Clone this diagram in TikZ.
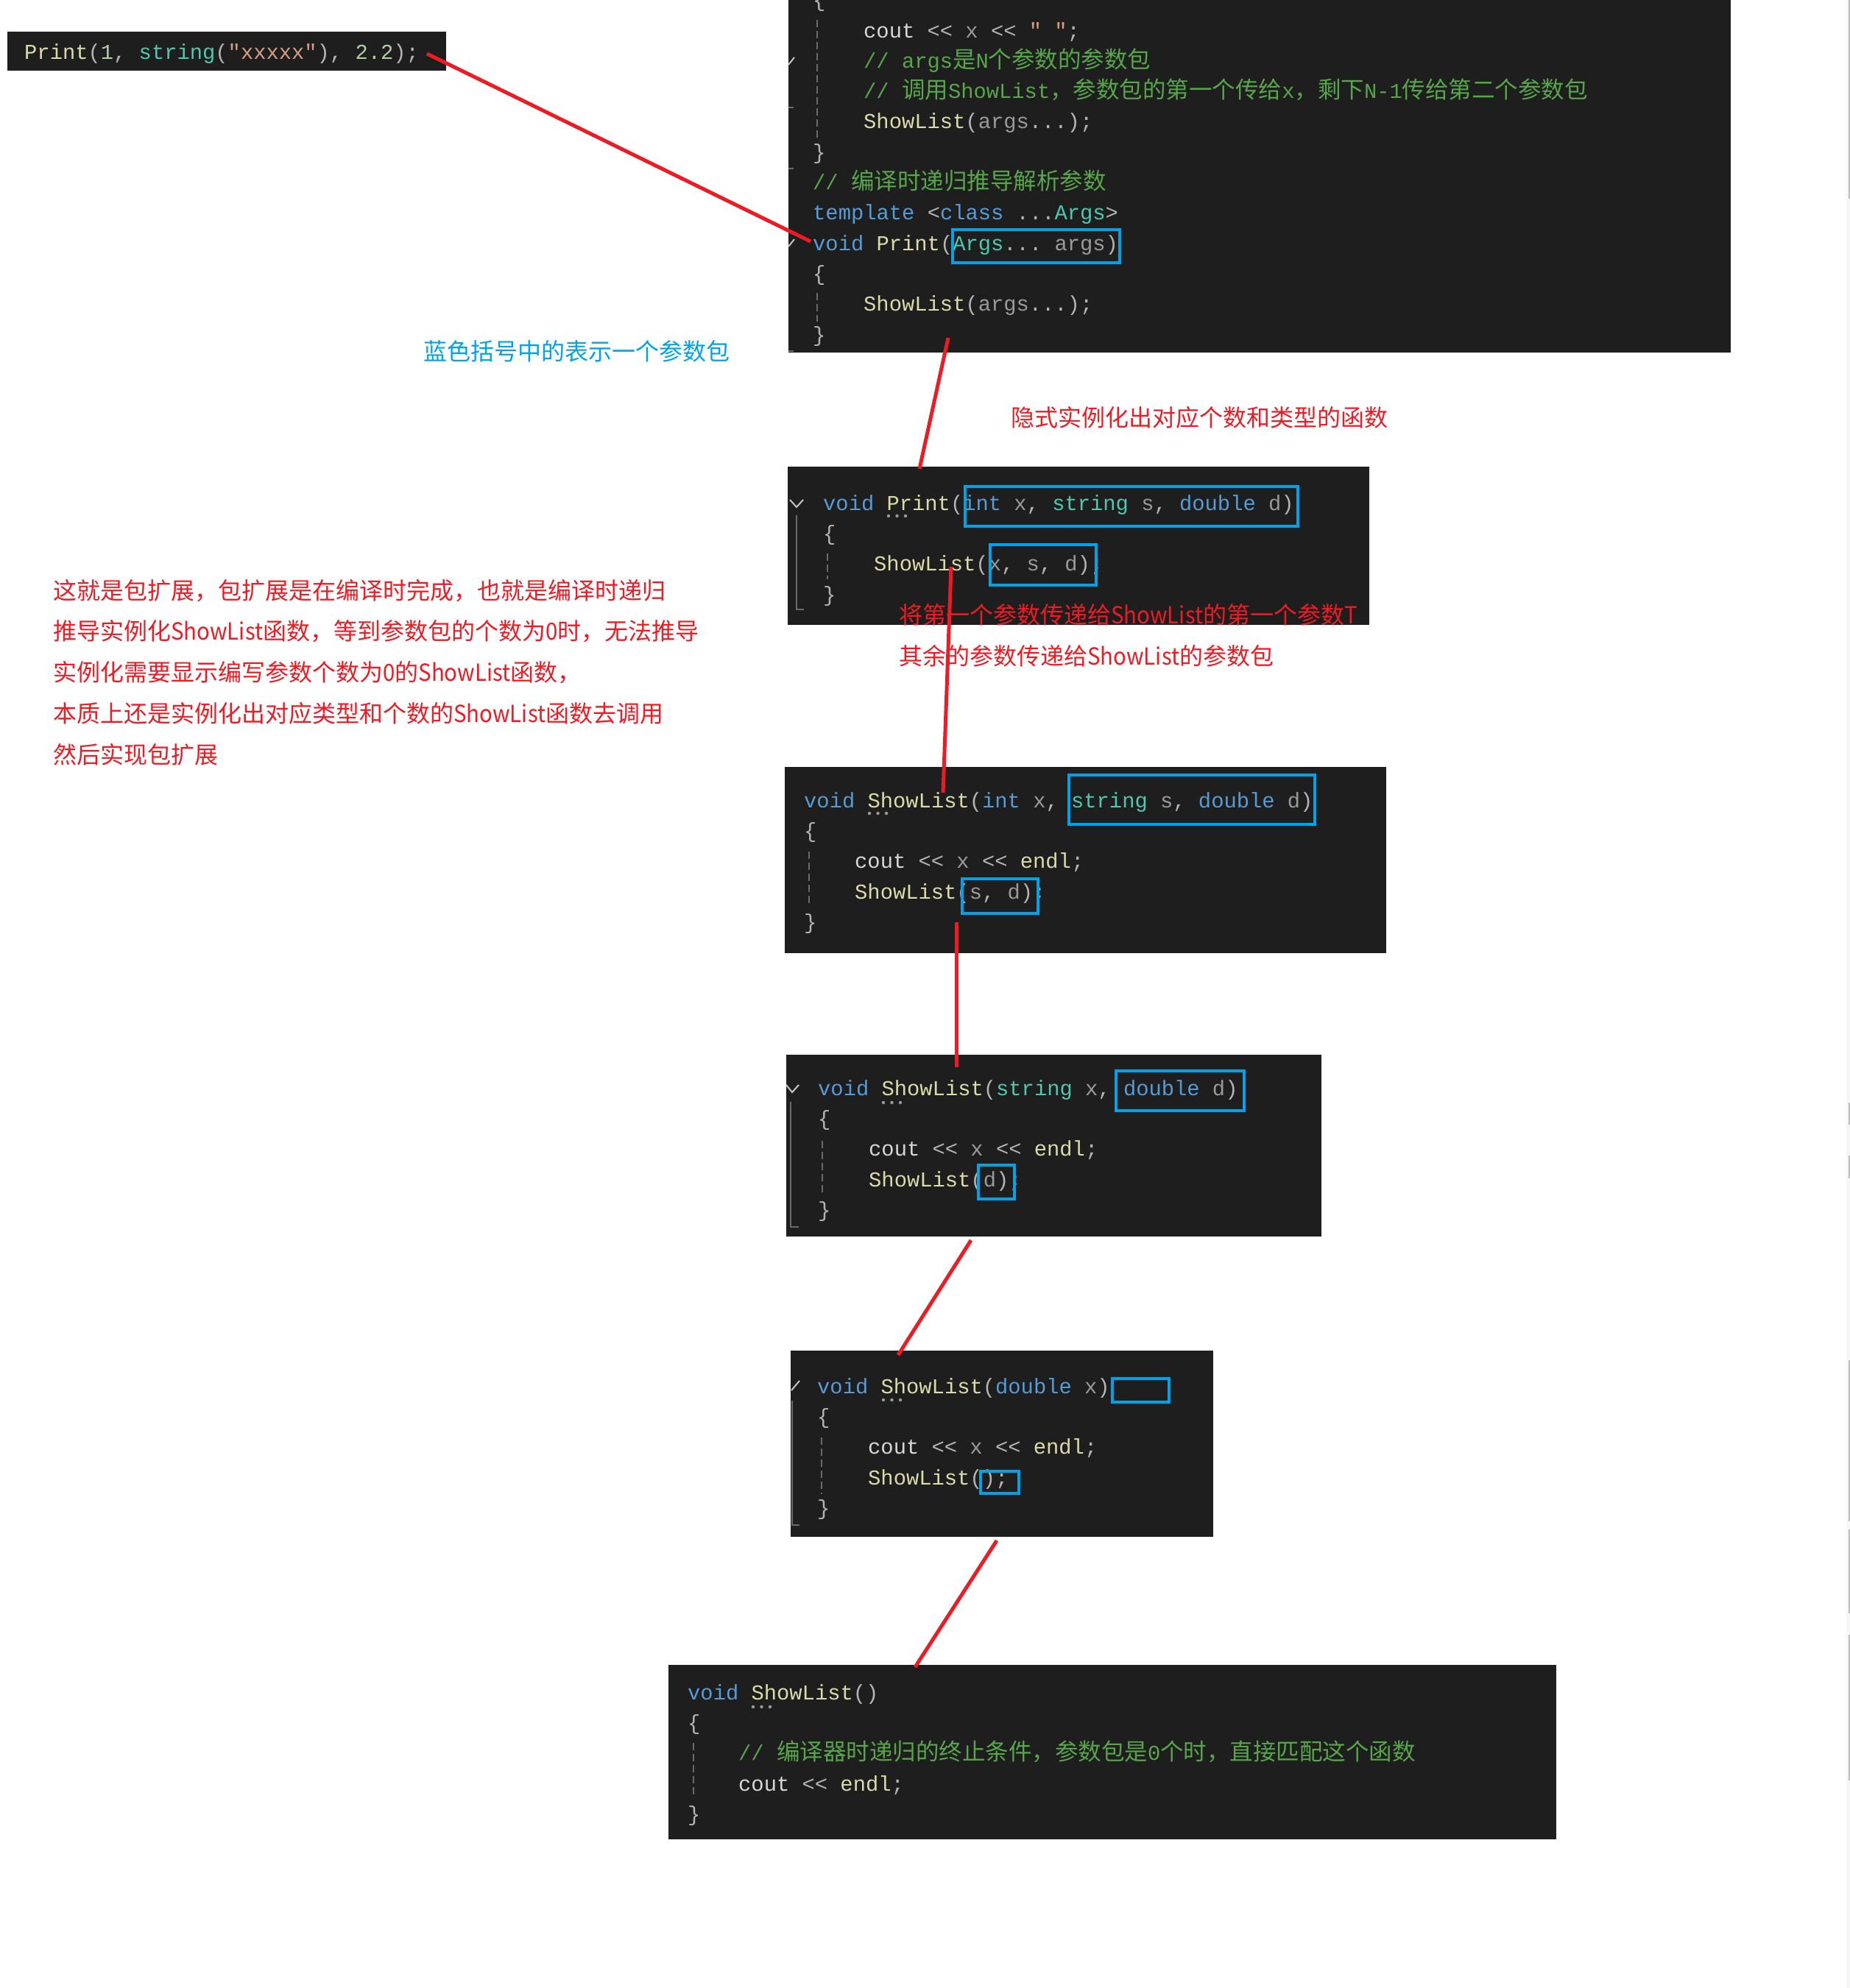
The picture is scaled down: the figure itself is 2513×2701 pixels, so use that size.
\documentclass[tikz,border=0pt]{standalone}
\usepackage{fontspec}
\setmonofont{Liberation Mono}
\newfontfamily\cjk{Noto Sans CJK SC}
\newfontfamily\cjknarrow[FakeStretch=0.92]{Noto Sans CJK SC}
\usepackage{xcolor}
\usepackage{tikz}
\usetikzlibrary{positioning}

\definecolor{vsbg}{HTML}{1E1E1E}
\definecolor{vskw}{HTML}{569CD6}
\definecolor{vsfn}{HTML}{DCDCAA}
\definecolor{vsty}{HTML}{4EC9B0}
\definecolor{vspa}{HTML}{9A9A9A}
\definecolor{vscm}{HTML}{57A64A}
\definecolor{vsst}{HTML}{D69D85}
\definecolor{vsnm}{HTML}{B5CEA8}
\definecolor{vspu}{HTML}{B4B4B4}
\definecolor{vsva}{HTML}{D8D8D8}
\definecolor{vsguide}{HTML}{6A6A6A}
\definecolor{vsfold}{HTML}{C5C5C5}
\definecolor{markred}{HTML}{ED1C24}
\definecolor{markblue}{HTML}{00A2E8}
\definecolor{edgebg}{HTML}{F6F6F6}
\definecolor{edgemark}{HTML}{BDBDBD}

\newcommand\codefont{\ttfamily\fontsize{28.8}{41.3}\selectfont}
\newcommand\notefont{\cjk\fontsize{32}{55.8}\selectfont}
\newcommand\zh[1]{{\cjk\fontsize{31.5}{41.3}\selectfont #1}}
\newcommand\lt[1]{{\cjknarrow #1}}
\newcommand\ckw[1]{\textcolor{vskw}{#1}}
\newcommand\cfn[1]{\textcolor{vsfn}{#1}}
\newcommand\cty[1]{\textcolor{vsty}{#1}}
\newcommand\cpa[1]{\textcolor{vspa}{#1}}
\newcommand\ccm[1]{\textcolor{vscm}{#1}}
\newcommand\cst[1]{\textcolor{vsst}{#1}}
\newcommand\cnm[1]{\textcolor{vsnm}{#1}}
\newcommand\cva[1]{\textcolor{vsva}{#1}}

\begin{document}
\begin{tikzpicture}[x=1pt,y=-1pt,node distance=6mm]
\tikzstyle{panel}=[fill=vsbg,inner sep=0pt,outer sep=0pt,anchor=north west]
\tikzstyle{code}=[anchor=base west,inner sep=0pt,font=\codefont,text=vspu]
\tikzstyle{note}=[anchor=base west,inner sep=0pt,font=\notefont,text=markred]
\tikzstyle{pack}=[draw=markblue,line width=4.5]
\tikzstyle{link}=[draw=markred,line width=5]
\tikzstyle{guide}=[draw=vsguide,line width=2,dash pattern=on 10pt off 5pt]
\tikzstyle{fold}=[draw=vsfold,line width=2]
\tikzstyle{foldline}=[draw=vsguide,line width=2]
\fill[white] (0,0) rectangle (2513,2701);
\useasboundingbox (0,0) rectangle (2513,2701);
\fill[edgebg] (2508,0) rectangle (2513,2701);
\foreach \a/\b in {0/270,1498/1528,1570/1601,1848/2067,2078/2192,2221/2419}
  \fill[edgemark] (2511,\a) rectangle (2513,\b);

% code panels
\node[panel,minimum width=596,minimum height=53] (callbox) at (10,43) {};
\node[panel,minimum width=1280,minimum height=479] (tmplbox) at (1071,0) {};
\node[panel,minimum width=790,minimum height=215] (printbox) at (1070,634) {};
\node[panel,minimum width=817,minimum height=253] (listthree) at (1066,1042) {};
\node[panel,minimum width=727,minimum height=247] (listtwo) at (1068,1433) {};
\node[panel,minimum width=574,minimum height=253] (listone) at (1074,1835) {};
\node[panel,minimum width=1206,minimum height=237] (listzero) at (908,2262) {};

\node[code] (callcode) at (33,80) {\cfn{Print}(\cnm{1}, \cty{string}(\cst{"xxxxx"}), \cnm{2.2});};

\node[code] (t0) at (1104,9.7) {\{};
\node[code] (t1) at (1173,51) {\cva{cout} << \cpa{x} << \cst{" "};};
\node[code] (t2) at (1173,92.3) {\ccm{// args\zh{是}N\zh{个参数的参数包}}};
\node[code] (t3) at (1173,133.6) {\ccm{// \zh{调用}ShowList\zh{，参数包的第一个传给}x\zh{，剩下}N-1\zh{传给第二个参数包}}};
\node[code] (t4) at (1173,174.9) {\cfn{ShowList}(\cpa{args}...);};
\node[code] (t5) at (1104,216.2) {\}};
\node[code] (t6) at (1104,257.5) {\ccm{// \zh{编译时递归推导解析参数}}};
\node[code] (t7) at (1104,298.8) {\ckw{template} <\ckw{class} ...\cty{Args}>};
\node[code] (t8) at (1104,340.1) {\ckw{void} \cfn{Print}(\cty{Args}... \cpa{args})};
\node[code] (t9) at (1104,381.4) {\{};
\node[code] (t10) at (1173,422.7) {\cfn{ShowList}(\cpa{args}...);};
\node[code] (t11) at (1104,464) {\}};
\draw[guide] (1110,27) -- (1110,187);
\draw[guide] (1110,398) -- (1110,437);
\draw[fold] (1071,88) -- (1079,78);
\draw[fold] (1071,335) -- (1079,325);
\foreach \y in {146,229,477} \draw[foldline] (1071,\y) -- (1078,\y);

\node[code] (p0) at (1118,693) {\ckw{void} \cfn{Print}(\ckw{int} \cpa{x}, \cty{string} \cpa{s}, \ckw{double} \cpa{d})};
\node[code] (p1) at (1118,734.3) {\{};
\node[code] (p2) at (1187,775.6) {\cfn{ShowList}(\cpa{x}, \cpa{s}, \cpa{d});};
\node[code] (p3) at (1118,817) {\}};
\draw[fold] (1073,679) -- (1082,689) -- (1091,679);
\draw[foldline] (1082,700) -- (1082,828) -- (1092,828);
\draw[guide] (1124,752) -- (1124,787);
\foreach \k in {0,1,2} \fill[vspa] (1207+\k*11.5,701) circle (2.2);

\node[code] (s0) at (1092,1097) {\ckw{void} \cfn{ShowList}(\ckw{int} \cpa{x}, \cty{string} \cpa{s}, \ckw{double} \cpa{d})};
\node[code] (s1) at (1092,1138.3) {\{};
\node[code] (s2) at (1161,1179.6) {\cva{cout} << \cpa{x} << \cfn{endl};};
\node[code] (s3) at (1161,1221) {\cfn{ShowList}(\cpa{s}, \cpa{d});};
\node[code] (s4) at (1092,1262.3) {\}};
\draw[guide] (1099,1157) -- (1099,1232);
\foreach \k in {0,1,2} \fill[vspa] (1181+\k*11.5,1105) circle (2.2);

\node[code] (u0) at (1111,1488) {\ckw{void} \cfn{ShowList}(\cty{string} \cpa{x}, \ckw{double} \cpa{d})};
\node[code] (u1) at (1111,1529.3) {\{};
\node[code] (u2) at (1180,1570.6) {\cva{cout} << \cpa{x} << \cfn{endl};};
\node[code] (u3) at (1180,1612) {\cfn{ShowList}(\cpa{d});};
\node[code] (u4) at (1111,1653.3) {\}};
\draw[fold] (1068,1474) -- (1076,1484) -- (1085,1474);
\draw[foldline] (1074,1497) -- (1074,1667) -- (1085,1667);
\draw[guide] (1117,1550) -- (1117,1623);
\foreach \k in {0,1,2} \fill[vspa] (1200+\k*11.5,1498) circle (2.2);

\node[code] (v0) at (1110,1893) {\ckw{void} \cfn{ShowList}(\ckw{double} \cpa{x})};
\node[code] (v1) at (1110,1934.3) {\{};
\node[code] (v2) at (1179,1975.6) {\cva{cout} << \cpa{x} << \cfn{endl};};
\node[code] (v3) at (1179,2017) {\cfn{ShowList}();};
\node[code] (v4) at (1110,2058.3) {\}};
\draw[fold] (1075,1889) -- (1086,1876);
\draw[foldline] (1076,1903) -- (1076,2072) -- (1086,2072);
\draw[guide] (1116,1953) -- (1116,2030);
\foreach \k in {0,1,2} \fill[vspa] (1200+\k*11.5,1902) circle (2.2);

\node[code] (w0) at (934,2309) {\ckw{void} \cfn{ShowList}()};
\node[code] (w1) at (934,2350.3) {\{};
\node[code] (w2) at (1003,2391.6) {\ccm{// \zh{编译器时递归的终止条件，参数包是}0\zh{个时，直接匹配这个函数}}};
\node[code] (w3) at (1003,2433) {\cva{cout} << \cfn{endl};};
\node[code] (w4) at (934,2474.3) {\}};
\draw[guide] (942,2368) -- (942,2443);
\foreach \k in {0,1,2} \fill[vspa] (1023+\k*11.5,2319) circle (2.2);

% parameter packs
\draw[pack] (1294,312) rectangle (1521,357);
\draw[pack] (1311,661) rectangle (1763,715);
\draw[pack] (1345,740) rectangle (1489,795);
\draw[pack] (1452,1053) rectangle (1786,1120);
\draw[pack] (1307,1194) rectangle (1410,1241);
\draw[pack] (1516,1455) rectangle (1690,1509);
\draw[pack] (1329,1583) rectangle (1378,1629);
\draw[pack] (1511,1873) rectangle (1588,1905);
\draw[pack] (1332,1999) rectangle (1384,2029);

% notes
\node[note,text=markblue] (packnote) at (575,489) {蓝色括号中的表示一个参数包};
\node[note] (impl) at (1373,579) {隐式实例化出对应个数和类型的函数};
\node[note] (firstarg) at (1221,847) {将第一个参数传递给\lt{ShowList}的第一个参数\lt{T}};
\node[note] (restarg) at (1221,903) {其余的参数传递给\lt{ShowList}的参数包};
\foreach \t [count=\i from 0] in {这就是包扩展，包扩展是在编译时完成，也就是编译时递归,
  推导实例化\lt{ShowList}函数，等到参数包的个数为\lt{0}时，无法推导,
  实例化需要显示编写参数个数为\lt{0}的\lt{ShowList}函数，,
  本质上还是实例化出对应类型和个数的\lt{ShowList}函数去调用,
  然后实现包扩展}
  \node[note] (expl\i) at (72,814+55.8*\i) {\t};

% red connectors
\coordinate (r1s) at (580,73);   \coordinate (r1e) at (1101,328);
\coordinate (r2s) at (1288,459); \coordinate (r2e) at (1249,637);
\coordinate (r3s) at (1292,770); \coordinate (r3e) at (1281,1077);
\coordinate (r4s) at (1299,1253); \coordinate (r4e) at (1299,1450);
\coordinate (r5s) at (1319,1685); \coordinate (r5e) at (1220,1841);
\coordinate (r6s) at (1354,2093); \coordinate (r6e) at (1243,2265);
\draw[link] (r1s)--(r1e); \draw[link] (r2s)--(r2e); \draw[link] (r3s)--(r3e);
\draw[link] (r4s)--(r4e); \draw[link] (r5s)--(r5e); \draw[link] (r6s)--(r6e);
\end{tikzpicture}
\end{document}
